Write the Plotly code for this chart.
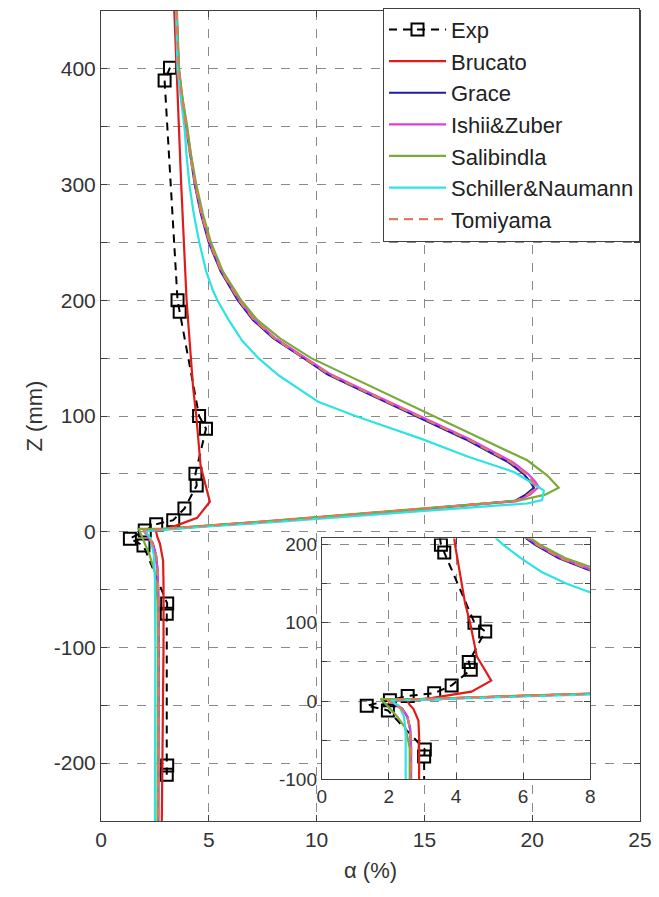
import plotly.graph_objects as go

# ---------------- data ----------------
exp_alpha = [3.2, 2.95, 3.55, 3.65, 4.55, 4.87, 4.38, 4.44, 3.87, 3.35, 2.56, 2.03, 1.34, 1.97, 3.07, 3.05, 3.07, 3.05]
exp_z = [401, 390, 200, 190, 100, 89, 50, 40, 20, 10, 6.5, 1, -6, -12, -62, -71, -202, -210]

brucato_alpha = [3.4, 3.5, 3.72, 3.97, 4.27, 4.42, 4.62, 5.05, 4.46, 3.3, 2.55, 2.62, 2.73, 2.88, 2.9, 2.9, 2.82]
brucato_z = [450, 400, 300, 200, 125, 100, 57, 26, 12, 4, 0.5, -5, -10, -25, -45, -100, -250]

grace_alpha = [3.5, 3.54, 3.6, 3.75, 3.95, 4.12, 4.35, 4.63, 5.0, 5.55, 6.35, 7.05, 8.0, 9.4, 10.5, 12.3, 14.6,
               16.9, 18.9, 19.6, 19.95, 20.08, 19.7, 19.2, 15.0, 10.0, 8.0, 6.0, 4.0, 3.0, 2.05,
               2.2, 2.4, 2.55, 2.63, 2.66, 2.67, 2.65]
grace_z = [450, 425, 400, 375, 350, 325, 300, 275, 250, 225, 200, 183, 167, 150, 136, 120, 100,
           80, 60, 50, 42, 38, 32, 26.5, 19.8, 11.8, 9.2, 6.5, 3.6, 2.2, 0.8,
           -4, -10, -20, -35, -60, -100, -250]

ishii_alpha = [3.5, 3.55, 3.61, 3.77, 3.97, 4.15, 4.38, 4.67, 5.05, 5.61, 6.42, 7.13, 8.1, 9.5, 10.65, 12.45, 14.8,
               17.1, 19.1, 19.8, 20.15, 20.3, 19.9, 19.3, 15.0, 10.0, 8.0, 6.0, 4.0, 3.0, 2.0,
               2.18, 2.38, 2.55, 2.63, 2.66, 2.67, 2.66]
ishii_z = [450, 425, 400, 375, 350, 325, 300, 275, 250, 225, 200, 183, 167, 150, 136, 120, 100,
           80, 60, 50, 43, 38.5, 32, 26.5, 19.9, 11.9, 9.3, 6.6, 3.7, 2.3, 0.9,
           -4, -10, -20, -35, -60, -100, -250]

salibindla_alpha = [3.52, 3.56, 3.62, 3.78, 4.0, 4.18, 4.42, 4.72, 5.1, 5.65, 6.5, 7.25, 8.3, 9.75, 10.55, 13.0, 15.4,
                    17.7, 19.77, 20.69, 21.23, 20.6, 19.4, 15.0, 10.0, 8.0, 6.0, 4.0, 3.0, 1.75,
                    2.0, 2.25, 2.5, 2.62, 2.64, 2.62]
salibindla_z = [450, 425, 400, 375, 350, 325, 300, 275, 250, 225, 200, 183, 167, 150, 143, 121, 100,
                80, 61.7, 48.8, 38, 32, 27, 20.2, 12.1, 9.5, 6.8, 3.9, 2.6, 2.5,
                -8, -20, -35, -60, -100, -250]

schiller_alpha = [3.48, 3.5, 3.55, 3.7, 3.87, 3.97, 4.1, 4.3, 4.56, 4.88, 5.2, 5.4, 5.92, 6.55, 7.3, 8.25, 10.1, 11.8,
                  14.9, 17.0, 19.15, 19.92, 20.54, 20.46, 19.77, 15.0, 10.0, 8.0, 5.0, 3.0, 2.05,
                  2.3, 2.45, 2.5, 2.52, 2.5]
schiller_z = [450, 425, 400, 375, 350, 325, 300, 275, 250, 225, 208, 200, 183, 165, 150, 135, 112, 100,
              80, 65, 51.6, 43, 35.5, 27.3, 24.4, 18.0, 10.8, 8.3, 4.5, 1.8, 0.4,
              -6, -20, -40, -100, -250]

tomiyama_alpha = [3.5, 3.55, 3.6, 3.76, 3.96, 4.13, 4.37, 4.65, 5.03, 5.58, 6.4, 7.1, 8.05, 9.45, 10.58, 12.38, 14.7,
                  17.0, 19.0, 19.7, 20.05, 20.2, 19.8, 19.25, 15.0, 10.0, 8.0, 6.0, 4.0, 3.0, 1.95,
                  2.15, 2.38, 2.55, 2.63, 2.66, 2.67, 2.66]
tomiyama_z = [450, 425, 400, 375, 350, 325, 300, 275, 250, 225, 200, 183, 167, 150, 136, 120, 100,
              80, 60, 50, 42.5, 38.2, 32, 26.5, 19.9, 11.9, 9.3, 6.6, 3.7, 2.3, 1.2,
              -4, -10, -20, -35, -60, -100, -250]

x_ticks = [0, 5, 10, 15, 20, 25]
y_ticks = [-200, -100, 0, 100, 200, 300, 400]
inset_x_ticks = [0, 2, 4, 6, 8]
inset_y_ticks = [-100, 0, 100, 200]

models = [
    ("Brucato", brucato_alpha, brucato_z, "#e01b1b", "solid"),
    ("Grace", grace_alpha, grace_z, "#1c1ca8", "solid"),
    ("Ishii&Zuber", ishii_alpha, ishii_z, "#e23de2", "solid"),
    ("Salibindla", salibindla_alpha, salibindla_z, "#7aaa3a", "solid"),
    ("Schiller&Naumann", schiller_alpha, schiller_z, "#2ee3e3", "solid"),
    ("Tomiyama", tomiyama_alpha, tomiyama_z, "#e07c5c", "9px,6px"),
]

FONT = "Liberation Sans, Arial, Helvetica, sans-serif"
TXT = "#333333"
GRID = "#8a8a8a"
AX = "#404040"


def labels(vals):
    return [str(v) for v in vals]


fig = go.Figure()

for xa, ya, show in [("x", "y", True), ("x2", "y2", False)]:
    fig.add_trace(go.Scatter(
        x=exp_alpha, y=exp_z, name="Exp", mode="lines+markers",
        line=dict(color="black", width=2, dash="8px,6px"),
        marker=dict(symbol="square-open", size=12, color="black", line=dict(width=2, color="black")),
        xaxis=xa, yaxis=ya, showlegend=show, legendgroup="Exp"))
    for name, ax_, az_, col, dash in models:
        fig.add_trace(go.Scatter(
            x=ax_, y=az_, name=name, mode="lines",
            line=dict(color=col, width=2.2, dash=dash),
            xaxis=xa, yaxis=ya, showlegend=show, legendgroup=name))

common = dict(showline=True, linecolor=AX, linewidth=1, mirror="ticks", ticks="inside",
              tickcolor=AX, ticklen=6, showgrid=True, gridcolor=GRID, griddash="dash",
              gridwidth=1, zeroline=False, tickfont=dict(family=FONT, size=21, color=TXT))
inset_common = {**common, "tickfont": dict(family=FONT, size=19, color=TXT)}

fig.update_layout(
    width=659, height=897,
    margin=dict(l=101, r=16, t=7, b=76),
    plot_bgcolor="white", paper_bgcolor="white",
    font=dict(family=FONT, color=TXT),
    xaxis=dict(domain=[0, 1], range=[0, 25], tickvals=x_ticks, ticktext=labels(x_ticks), anchor="y",
               title=dict(text="α (%)", font=dict(family=FONT, size=22, color=TXT), standoff=12),
               **common),
    yaxis=dict(domain=[0, 1], range=[-250, 450], tickvals=y_ticks, ticktext=labels(y_ticks), anchor="x",
               minor=dict(dtick=50, tick0=0, ticks="inside", ticklen=6, tickcolor=AX,
                          showgrid=True, gridcolor=GRID, griddash="dash", gridwidth=1),
               title=dict(text="Z (mm)", font=dict(family=FONT, size=22, color=TXT), standoff=5),
               **common),
    xaxis2=dict(domain=[0.4096, 0.9077], range=[0, 8], tickvals=inset_x_ticks,
                ticktext=labels(inset_x_ticks), anchor="y2", **inset_common),
    yaxis2=dict(domain=[0.0516, 0.3489], range=[-100, 208], tickvals=inset_y_ticks,
                ticktext=labels(inset_y_ticks), anchor="x2",
                minor=dict(dtick=50, tick0=0, ticks="inside", ticklen=5, tickcolor=AX,
                           showgrid=True, gridcolor=GRID, griddash="dash", gridwidth=1),
                **inset_common),
    legend=dict(x=1, y=1.004, xanchor="right", yanchor="top", bgcolor="white",
                bordercolor=AX, borderwidth=1, font=dict(family=FONT, size=22, color="#222222"),
                tracegroupgap=0, traceorder="grouped", itemwidth=57),
    showlegend=True,
)

fig.write_html("out.html")
